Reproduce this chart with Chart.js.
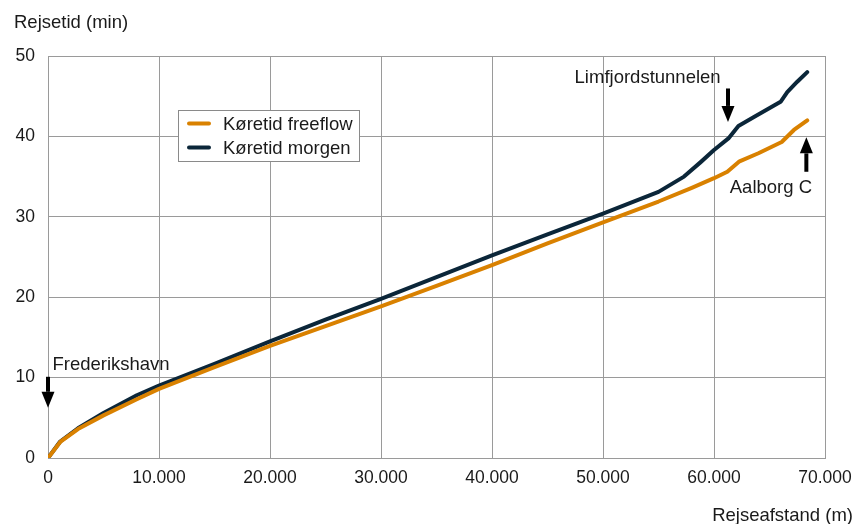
<!DOCTYPE html>
<html>
<head>
<meta charset="utf-8">
<script src="https://cdn.jsdelivr.net/npm/chart.js@4.4.1/dist/chart.umd.min.js"></script>
<style>
  html, body { margin: 0; padding: 0; background: #fff; }
  #wrap { width: 854px; height: 524px; position: relative; }
</style>
</head>
<body>
<div id="wrap"><canvas id="chart" width="854" height="524"></canvas></div>
<script>
// Distance along the route (m) and travel time (min)
const freeflowDist = [0, 1100, 2700, 5000, 8000, 10000, 15000, 20000, 25000, 30000, 35000, 40000, 45000, 50000, 55000, 58000, 60000, 61200, 62300, 64000, 66100, 67200, 68400];
const freeflowTime = [0, 2.0, 3.6, 5.3, 7.3, 8.6, 11.3, 13.95, 16.4, 18.85, 21.4, 24.0, 26.7, 29.3, 31.9, 33.6, 34.8, 35.6, 36.9, 37.9, 39.3, 40.8, 42.0];

const morgenDist = [0, 1100, 2700, 5000, 8000, 10000, 15000, 20000, 25000, 30000, 35000, 40000, 45000, 50000, 55000, 57300, 58800, 60000, 61300, 62200, 63600, 66000, 66600, 67500, 68400];
const morgenTime = [0, 2.05, 3.7, 5.6, 7.8, 9.0, 11.7, 14.5, 17.2, 19.8, 22.5, 25.2, 27.8, 30.4, 33.1, 35.0, 36.8, 38.3, 39.75, 41.3, 42.4, 44.3, 45.5, 46.8, 48.0];

const seriesLabels = ['Køretid freeflow', 'Køretid morgen'];
const seriesColors = ['#d98100', '#0b2639'];

const xTicks = [0, 10000, 20000, 30000, 40000, 50000, 60000, 70000];
const yTicks = [0, 10, 20, 30, 40, 50];

// annotations: text + arrow, placed in data units
const notes = [
    { text: 'Frederikshavn', tx: 400, ty: 11.0, ax: 0, aFrom: 10.1, aTo: 6.25 },
    { text: 'Limfjordstunnelen', tx: 47440, ty: 46.66, ax: 61260, aFrom: 45.96, aTo: 41.8 },
    { text: 'Aalborg C', tx: 61420, ty: 33.0, ax: 68320, aFrom: 35.6, aTo: 39.88 }
];

const FONT = '"Liberation Sans", Arial, sans-serif';
const TEXT = '#1a1a1a';
const GRID = '#9a9a9a';

function toPoints(xs, ys) {
    return xs.map((x, i) => ({ x: x, y: ys[i] }));
}

function formatThousands(v) {
    return String(v).replace(/\B(?=(\d{3})+(?!\d))/g, '.');
}

function drawArrow(ctx, x, y1, y2) {
    const dir = y2 > y1 ? 1 : -1;
    const head = 16;
    ctx.save();
    ctx.strokeStyle = '#000';
    ctx.fillStyle = '#000';
    ctx.lineWidth = 4;
    ctx.beginPath();
    ctx.moveTo(x, y1);
    ctx.lineTo(x, y2 - dir * head);
    ctx.stroke();
    ctx.beginPath();
    ctx.moveTo(x - 6.5, y2 - dir * head);
    ctx.lineTo(x + 6.5, y2 - dir * head);
    ctx.lineTo(x, y2);
    ctx.closePath();
    ctx.fill();
    ctx.restore();
}

// Texts, arrows, axis titles and the boxed legend
const decorations = {
    id: 'decorations',
    afterDatasetsDraw(chart) {
        const ctx = chart.ctx;
        const xs = chart.scales.x;
        const ys = chart.scales.y;
        ctx.save();
        ctx.font = '18.5px ' + FONT;
        ctx.fillStyle = TEXT;
        ctx.textBaseline = 'alphabetic';

        // axis titles
        ctx.textAlign = 'left';
        ctx.fillText('Rejsetid (min)', 14, 28);
        ctx.textAlign = 'right';
        ctx.fillText('Rejseafstand (m)', 853, 521);

        // annotations
        notes.forEach(n => {
            ctx.textAlign = 'left';
            ctx.fillStyle = TEXT;
            ctx.fillText(n.text, xs.getPixelForValue(n.tx), ys.getPixelForValue(n.ty));
            drawArrow(ctx, xs.getPixelForValue(n.ax), ys.getPixelForValue(n.aFrom), ys.getPixelForValue(n.aTo));
        });

        // legend
        const lx = 178, ly = 110, lw = 181, lh = 51;
        ctx.fillStyle = '#fff';
        ctx.fillRect(lx, ly, lw, lh);
        ctx.strokeStyle = '#8a8a8a';
        ctx.lineWidth = 1;
        ctx.strokeRect(lx + 0.5, ly + 0.5, lw, lh);
        chart.data.datasets.forEach((ds, i) => {
            const yy = ly + 13.5 + i * 24;
            ctx.strokeStyle = ds.borderColor;
            ctx.lineWidth = 4;
            ctx.lineCap = 'round';
            ctx.beginPath();
            ctx.moveTo(189, yy);
            ctx.lineTo(209, yy);
            ctx.stroke();
            ctx.fillStyle = TEXT;
            ctx.textAlign = 'left';
            ctx.textBaseline = 'middle';
            ctx.fillText(ds.label, 223, yy + 1);
        });
        ctx.restore();
    }
};

new Chart(document.getElementById('chart'), {
    type: 'line',
    data: {
        datasets: [
            {
                label: seriesLabels[0],
                data: toPoints(freeflowDist, freeflowTime),
                borderColor: seriesColors[0],
                backgroundColor: seriesColors[0],
                borderWidth: 4,
                pointRadius: 0,
                tension: 0,
                borderJoinStyle: 'round',
                borderCapStyle: 'round',
                order: 1
            },
            {
                label: seriesLabels[1],
                data: toPoints(morgenDist, morgenTime),
                borderColor: seriesColors[1],
                backgroundColor: seriesColors[1],
                borderWidth: 4,
                pointRadius: 0,
                tension: 0,
                borderJoinStyle: 'round',
                borderCapStyle: 'round',
                order: 2
            }
        ]
    },
    options: {
        responsive: false,
        animation: false,
        layout: { padding: { left: 0, right: 29, top: 56, bottom: 0 } },
        plugins: {
            legend: { display: false },
            tooltip: { enabled: false }
        },
        scales: {
            x: {
                type: 'linear',
                min: 0,
                max: 70000,
                afterBuildTicks: axis => { axis.ticks = xTicks.map(v => ({ value: v })); },
                afterFit: axis => {
                    axis.height = 66;
                    axis.paddingLeft = 0;
                    axis.paddingRight = 0;
                },
                ticks: {
                    font: { family: FONT, size: 17.5 },
                    color: TEXT,
                    padding: 10,
                    maxRotation: 0,
                    callback: v => formatThousands(v)
                },
                grid: { color: GRID, lineWidth: 1, drawTicks: false },
                border: { color: GRID }
            },
            y: {
                min: 0,
                max: 50,
                afterBuildTicks: axis => { axis.ticks = yTicks.map(v => ({ value: v })); },
                afterFit: axis => {
                    axis.width = 48;
                    axis.paddingTop = 0;
                    axis.paddingBottom = 0;
                },
                ticks: {
                    font: { family: FONT, size: 17.5 },
                    color: TEXT,
                    padding: 13
                },
                grid: { color: GRID, lineWidth: 1, drawTicks: false },
                border: { color: GRID }
            }
        }
    },
    plugins: [decorations]
});
</script>
</body>
</html>
